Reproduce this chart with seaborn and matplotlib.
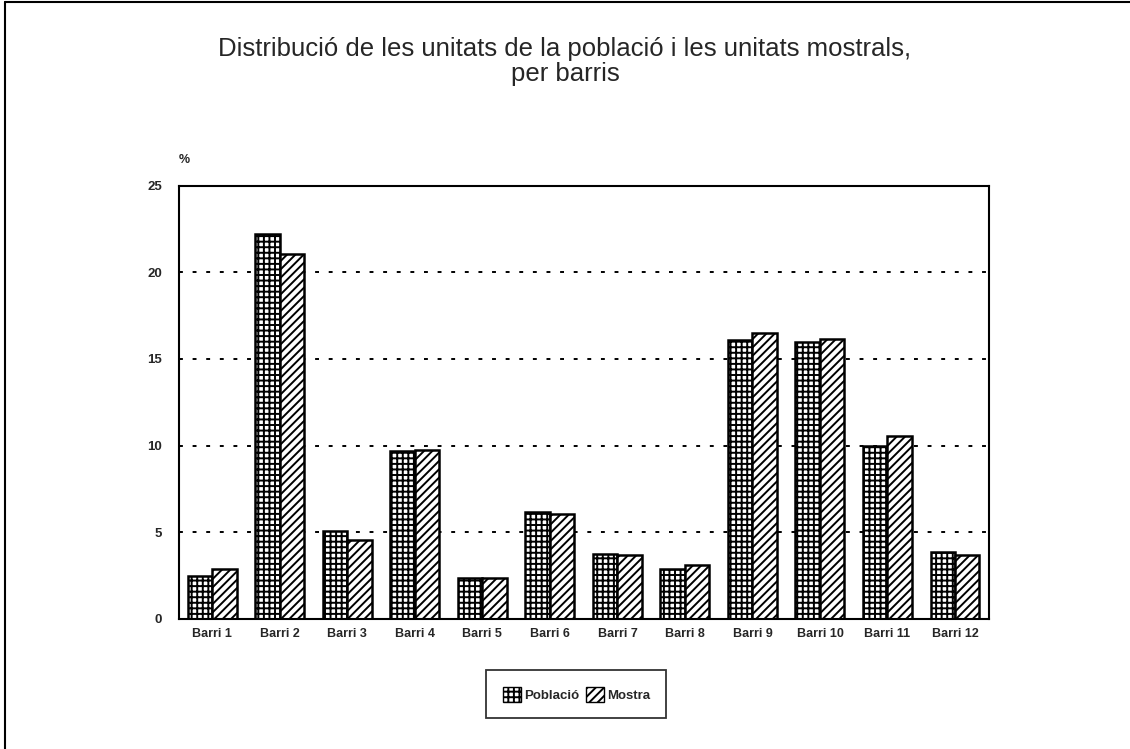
import matplotlib
matplotlib.use("Agg")
import matplotlib.pyplot as plt
import matplotlib.patches as mpatches
from matplotlib.lines import Line2D
import seaborn as sns
import pandas as pd

categories = ["Barri 1", "Barri 2", "Barri 3", "Barri 4", "Barri 5", "Barri 6",
              "Barri 7", "Barri 8", "Barri 9", "Barri 10", "Barri 11", "Barri 12"]
poblacio = [2.44, 22.2, 5.04, 9.66, 2.35, 6.16, 3.75, 2.89, 16.1, 15.95, 9.99, 3.85]
mostra = [2.87, 21.06, 4.52, 9.76, 2.35, 6.06, 3.70, 3.12, 16.5, 16.17, 10.53, 3.65]
series_names = ["Població", "Mostra"]
yticks = [0, 5, 10, 15, 20, 25]
title = "Distribució de les unitats de la població i les unitats mostrals,\nper barris"

df = pd.DataFrame({
    "barri": categories * 2,
    "serie": [series_names[0]] * len(categories) + [series_names[1]] * len(categories),
    "valor": poblacio + mostra,
})

sns.set_style("white")
plt.rcParams["font.family"] = ["Liberation Sans", "DejaVu Sans"]
plt.rcParams["hatch.linewidth"] = 1.4
plt.rcParams["hatch.color"] = "black"

fig = plt.figure(figsize=(11.3, 7.49), dpi=100)
ax = fig.add_axes([0.158, 0.174, 0.717, 0.578])

sns.barplot(data=df, x="barri", y="valor", hue="serie", order=categories,
            hue_order=series_names, palette=["white", "white"], width=0.725,
            edgecolor="black", linewidth=1.8, ax=ax, legend=False, errorbar=None)

hatches = ["+++", "////"]
for cont, h in zip(ax.containers, hatches):
    for bar in cont:
        bar.set_hatch(h)
        bar.set_edgecolor("black")

ax.set_ylim(0, 25)
ax.set_xlim(-0.5, len(categories) - 0.5)
ax.set_yticks(yticks)
ax.set_yticklabels([str(t) for t in yticks], fontsize=9.5, fontweight="bold")
ax.set_xticks(range(len(categories)))
ax.set_xticklabels(categories, fontsize=9, fontweight="bold")
ax.tick_params(axis="both", length=0)
ax.tick_params(axis="y", pad=12)
ax.tick_params(axis="x", pad=7)
ax.set_xlabel("")
ax.set_ylabel("")

for t in yticks[1:-1]:
    ax.axhline(t, color="black", linestyle=(0, (2, 5)), linewidth=1.4, zorder=0)

for s in ax.spines.values():
    s.set_visible(True)
    s.set_color("black")
    s.set_linewidth(1.5)

ax.text(0.0, 1.045, "%", transform=ax.transAxes, fontsize=9, fontweight="bold",
        ha="left", va="bottom")

fig.text(0.5, 0.918, title, ha="center", va="center", fontsize=18.5, linespacing=1.08)

handles = [mpatches.Patch(facecolor="white", edgecolor="black", hatch=h, linewidth=1.0)
           for h in hatches]
leg = fig.legend(handles, series_names, loc="center", bbox_to_anchor=(0.51, 0.073),
                 ncol=2, fontsize=9.5, frameon=True, fancybox=False, edgecolor="black",
                 handlelength=1.4, handleheight=1.4, handletextpad=0.2, columnspacing=0.5,
                 borderpad=1.25, borderaxespad=0)
leg.get_frame().set_linewidth(1.3)
for txt in leg.get_texts():
    txt.set_fontweight("bold")

fig.add_artist(Line2D([0.004, 0.004], [0.0, 0.997], transform=fig.transFigure,
                      color="black", linewidth=1.5))
fig.add_artist(Line2D([0.004, 1.0], [0.997, 0.997], transform=fig.transFigure,
                      color="black", linewidth=1.5))

fig.savefig("out.png", dpi=100)
